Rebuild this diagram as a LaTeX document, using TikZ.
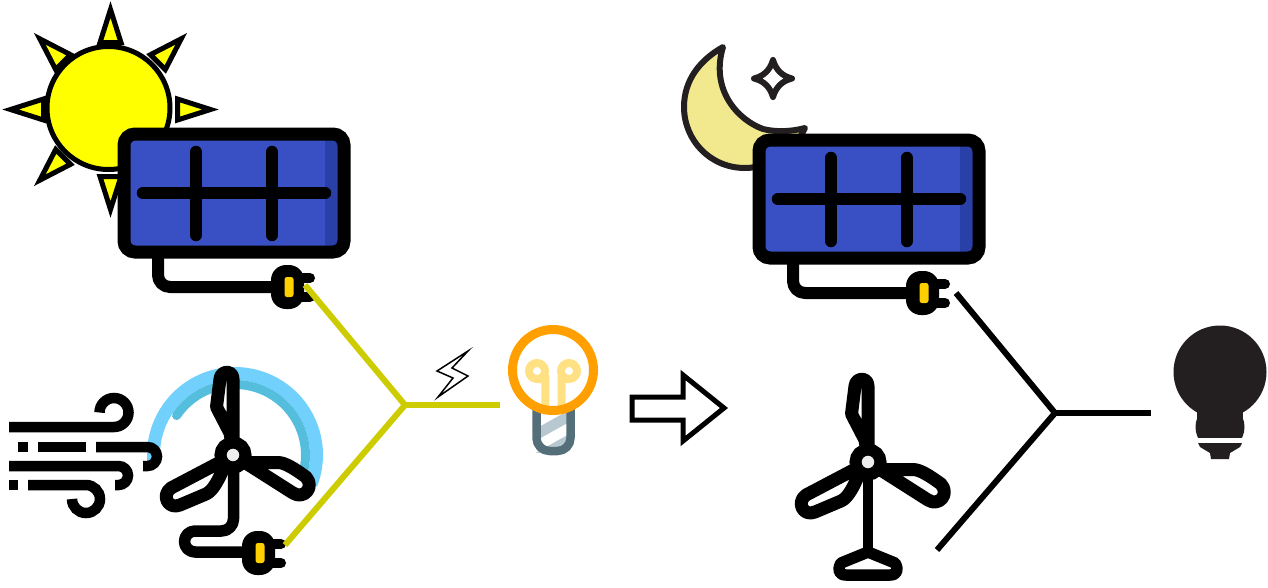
\documentclass[tikz,border=0pt]{standalone}
\usetikzlibrary{calc}
\definecolor{panelblue}{HTML}{3850C4}
\definecolor{paneldark}{HTML}{2940A8}
\definecolor{sunyellow}{HTML}{FFFF00}
\definecolor{plugyellow}{HTML}{FFD000}
\definecolor{wirey}{HTML}{CCCC00}
\definecolor{skylight}{HTML}{72D0FC}
\definecolor{skydark}{HTML}{55BEDD}
\definecolor{bulborange}{HTML}{FFA000}
\definecolor{bulbfil}{HTML}{FFE082}
\definecolor{bulbbase}{HTML}{546E7A}
\definecolor{bulbstripe}{HTML}{B8C8D0}
\definecolor{nightink}{HTML}{231F20}
\definecolor{moonfill}{HTML}{F2E98E}
\tikzset{
  icon/.style={draw=black,line join=round,line cap=round},
  wind/.style={draw=black,line width=10.5,line cap=butt},
  wirelive/.style={draw=wirey,line width=6,line join=miter},
  wiredead/.style={draw=black,line width=6,line join=miter},
  ray/.style={draw=black,fill=sunyellow,line width=5,miter limit=10},
  blade/.style={icon,fill=white,line width=13},
}
\newcommand{\solarpanel}{%
  \draw[icon,line width=12] (158,258) -- (158,275) arc[start angle=180,end angle=90,radius=12] -- (280,287);
  \begin{scope}
    \clip[rounded corners=9] (124,134) rectangle (344,252);
    \fill[panelblue] (124,134) rectangle (344,252);
    \fill[paneldark,rounded corners=8] (325,125) rectangle (360,262);
  \end{scope}
  \draw[black,line width=13,rounded corners=11] (124,134) rectangle (344,252);
  \draw[icon,line width=12.5] (196,152) -- (196,235);
  \draw[icon,line width=12.5] (272,152) -- (272,235);
  \draw[icon,line width=12.5] (143,193) -- (325,193);
}
\newcommand{\plugicon}{%
  \fill[black,rounded corners=15] (-18,-22) rectangle (15,22);
  \draw[icon,line width=10] (8,-9) -- (21,-9);
  \draw[icon,line width=10] (8,10) -- (21,10);
  \fill[plugyellow,rounded corners=2.5] (-4.5,-10) rectangle (4.5,10);
}
\newcommand{\rotoricon}{%
  \draw[blade] (0,-5) -- (0,-76) .. controls (0,-85) and (-12,-85) .. (-13,-76) -- (-16.5,-48) -- (-3,-22) -- cycle;
  \draw[blade] (5,3) -- (17,7.5) -- (45,7.5) .. controls (52,7.5) and (62,14) .. (73,22) .. controls (82,32) and (71,45) .. (60,38) -- cycle;
  \draw[blade] (-5,3) -- (-62,33) .. controls (-72,40) and (-65,55) .. (-53,50) -- (-27,39) .. controls (-20,36) and (-14,24) .. (-9,12) -- cycle;
  \draw[black,fill=white!93!black,line width=12] (0,0) circle[radius=12.5];
}
\begin{document}
\begin{tikzpicture}[x=1pt,y=-1pt]
\useasboundingbox (0,0) rectangle (1268,587);

% --- left: sun
\foreach \a in {0,45,...,315}{
  \draw[ray,shift={(110.5,109.5)},rotate=\a] (0,-100) -- (10.5,-67) -- (-10.5,-67) -- cycle;
}
\draw[black,fill=sunyellow,line width=5] (108.5,108) circle[radius=61.5];
\solarpanel
\begin{scope}[shift={(289,287)}]\plugicon\end{scope}

% --- left: wind turbine
\coordinate (arcC) at (235,455);
\draw[skylight,line width=13] ($(arcC)+(176:81.5)$) arc[start angle=176,end angle=381,radius=81.5];
\draw[skydark,line width=9,line cap=round] ($(arcC)+(214:70.5)$) arc[start angle=214,end angle=374,radius=70.5];
\draw[icon,line width=11.5] (233.5,455) -- (233.5,519) arc[start angle=0,end angle=90,radius=12] -- (195,531)
   arc[start angle=270,end angle=90,radius=10.5] -- (250,552);
\begin{scope}[shift={(233,455)}]\rotoricon\end{scope}
\begin{scope}[shift={(260,553)}]\plugicon\end{scope}

% --- wind
\draw[wind] (9,427) -- (114,427) arc[start angle=90,end angle=-180,radius=14.5];
\draw[wind] (18,447) -- (28,447);
\draw[wind] (38,447) -- (86,447);
\draw[wind] (96,447) -- (147.5,447) arc[start angle=-90,end angle=90,radius=9.5] -- (143,466);
\draw[wind] (9,466) -- (118.5,466) arc[start angle=-90,end angle=90,radius=9.5] -- (115,485);
\draw[wind] (9,485) -- (18,485);
\draw[wind] (28,485) -- (86,485) arc[start angle=-90,end angle=180,radius=14];

% --- left: lamp
\begin{scope}
  \clip (536,405) -- (570,405) -- (570,452) -- (536,452) -- cycle;
  \fill[bulbstripe] (530,432) -- (580,404) -- (580,416) -- (530,444) -- cycle;
  \fill[bulbstripe] (530,456) -- (580,428) -- (580,440) -- (530,468) -- cycle;
\end{scope}
\draw[bulbbase,line width=8.5,line join=round] (536.5,405) -- (536.5,438) arc[start angle=180,end angle=90,radius=13] -- (557.5,451) arc[start angle=90,end angle=0,radius=13] -- (570.5,405);
\draw[bulbfil,line width=8] (545.3,408) -- (545.3,379) -- (537,379) arc[start angle=90,end angle=450,radius=8];
\draw[bulbfil,line width=8] (561.7,408) -- (561.7,379) -- (569,379) arc[start angle=90,end angle=-270,radius=8];
\draw[bulborange,line width=9] (553,370) circle[radius=40.5];

% --- left wires
\coordinate (junctionL) at (405,405);
\coordinate (plugA) at (305,285);
\coordinate (plugB) at (285,545);
\coordinate (lampL) at (500,405);
\draw[wirelive] (plugA) -- (junctionL) -- (plugB);
\draw[wirelive] (junctionL) -- (lampL);

% bolt
\draw[black,fill=white,line width=1.5,miter limit=10] (468,351) -- (437,371) -- (453,378) -- (438,397) -- (468,376) -- (452,368) -- cycle;

% big arrow
\draw[black,fill=white,line width=5,miter limit=10] (632,397) -- (683,397) -- (683,375) -- (724,408) -- (683,441) -- (683,420) -- (632,420) -- cycle;

% --- right: moon & star
\draw[draw=nightink,fill=moonfill,line width=6,line join=round]
  (723,47) .. controls (700,60) and (684,80) .. (684,107)
  .. controls (684,140) and (710,168) .. (745,168)
  .. controls (770,168) and (795,150) .. (805,128)
  .. controls (790,132) and (775,132) .. (763,129)
  .. controls (738,120) and (710,90) .. (723,47) -- cycle;
\draw[draw=nightink,fill=white,line width=6,line join=round]
  (773,60) .. controls (776,70) and (782,76) .. (792,78.5)
  .. controls (782,81) and (776,87) .. (773,97)
  .. controls (770,87) and (764,81) .. (754,78.5)
  .. controls (764,76) and (770,70) .. (773,60) -- cycle;

\begin{scope}[shift={(635,6)}]\solarpanel\end{scope}
\begin{scope}[shift={(924,293)}]\plugicon\end{scope}

% --- right: turbine
\draw[icon,line width=10] (868,462) -- (868,551);
\draw[icon,line width=11.5,fill=white] (868,552) -- (895,563) .. controls (899,570) and (897,575) .. (890,575) -- (846,575) .. controls (839,575) and (837,570) .. (841,563) -- cycle;
\begin{scope}[shift={(868,462)}]\rotoricon\end{scope}

% --- right wires
\coordinate (junctionR) at (1055,413);
\coordinate (plugC) at (956,293);
\coordinate (plugD) at (937,550);
\coordinate (lampR) at (1151,413);
\draw[wiredead] (plugC) -- (junctionR) -- (plugD);
\draw[wiredead] (junctionR) -- (lampR);

% --- right: dark lamp
\fill[nightink] (1220,372) circle[radius=46.5];
\begin{scope}
  \clip (1190,400) rectangle (1250,437);
  \fill[nightink] (1220,427) circle[radius=24.5];
  \fill[nightink] (1197,400) rectangle (1243,420);
\end{scope}
\fill[nightink] (1198,443) -- (1242,443) -- (1240,447) -- (1230,453) -- (1229,459) -- (1211,459) -- (1210,453) -- (1200,447) -- cycle;
\end{tikzpicture}
\end{document}
